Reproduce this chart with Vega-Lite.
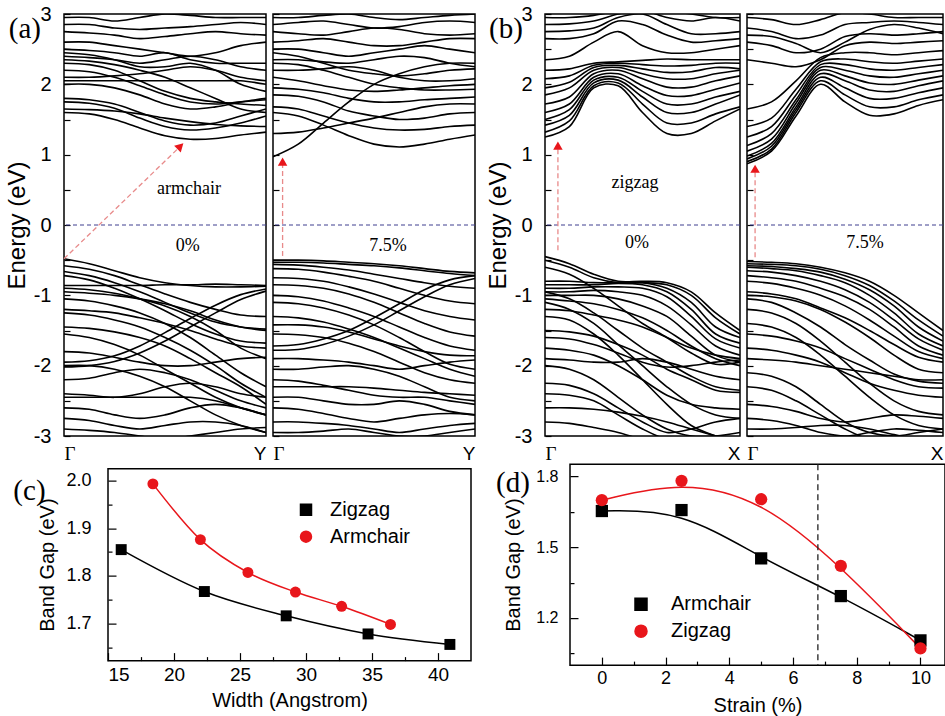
{
"$schema": "https://vega.github.io/schema/vega-lite/v6.json",
"background": "white",
"padding": {"left": 4, "top": 3, "right": 0, "bottom": 0},
"bounds": "full",
"spacing": -4,
"config": {
  "view": {"stroke": "black", "strokeWidth": 1.5},
  "axis": {"domain": false, "grid": false, "labelColor": "black", "tickColor": "black", "titleColor": "black", "labelFont": "Liberation Sans", "titleFont": "Liberation Sans", "titleFontWeight": "normal", "tickWidth": 1.2, "labelOverlap": false, "tickCount": 100},
  "legend": {"labelFont": "Liberation Sans", "labelColor": "black"},
  "text": {"font": "Liberation Serif", "color": "black"}
},
"datasets": {
"a0": [
{"b":1,"k":0,"e":-0.48},{"b":1,"k":1,"e":-0.55},{"b":1,"k":2,"e":-0.65},{"b":1,"k":3,"e":-0.75},{"b":1,"k":4,"e":-0.82},{"b":1,"k":5,"e":-0.86},{"b":1,"k":6,"e":-0.88},{"b":1,"k":7,"e":-0.88},{"b":1,"k":8,"e":-0.87},
{"b":2,"k":0,"e":-0.86},{"b":2,"k":1,"e":-0.86},{"b":2,"k":2,"e":-0.86},{"b":2,"k":3,"e":-0.86},{"b":2,"k":4,"e":-0.85},{"b":2,"k":5,"e":-0.85},{"b":2,"k":6,"e":-0.84},{"b":2,"k":7,"e":-0.85},{"b":2,"k":8,"e":-0.86},
{"b":3,"k":0,"e":-0.58},{"b":3,"k":1,"e":-0.63},{"b":3,"k":2,"e":-0.72},{"b":3,"k":3,"e":-0.85},{"b":3,"k":4,"e":-0.98},{"b":3,"k":5,"e":-1.1},{"b":3,"k":6,"e":-1.2},{"b":3,"k":7,"e":-1.28},{"b":3,"k":8,"e":-1.3},
{"b":4,"k":0,"e":-0.66},{"b":4,"k":1,"e":-0.72},{"b":4,"k":2,"e":-0.82},{"b":4,"k":3,"e":-0.95},{"b":4,"k":4,"e":-1.1},{"b":4,"k":5,"e":-1.25},{"b":4,"k":6,"e":-1.38},{"b":4,"k":7,"e":-1.45},{"b":4,"k":8,"e":-1.48},
{"b":5,"k":0,"e":-0.72},{"b":5,"k":1,"e":-0.78},{"b":5,"k":2,"e":-0.9},{"b":5,"k":3,"e":-1.05},{"b":5,"k":4,"e":-1.22},{"b":5,"k":5,"e":-1.4},{"b":5,"k":6,"e":-1.55},{"b":5,"k":7,"e":-1.65},{"b":5,"k":8,"e":-1.68},
{"b":6,"k":0,"e":-0.9},{"b":6,"k":1,"e":-0.92},{"b":6,"k":2,"e":-0.97},{"b":6,"k":3,"e":-1.05},{"b":6,"k":4,"e":-1.15},{"b":6,"k":5,"e":-1.3},{"b":6,"k":6,"e":-1.5},{"b":6,"k":7,"e":-1.75},{"b":6,"k":8,"e":-1.9},
{"b":7,"k":0,"e":-0.95},{"b":7,"k":1,"e":-0.97},{"b":7,"k":2,"e":-1},{"b":7,"k":3,"e":-1.05},{"b":7,"k":4,"e":-1.12},{"b":7,"k":5,"e":-1.22},{"b":7,"k":6,"e":-1.35},{"b":7,"k":7,"e":-1.45},{"b":7,"k":8,"e":-1.5},
{"b":8,"k":0,"e":-1.05},{"b":8,"k":1,"e":-1.08},{"b":8,"k":2,"e":-1.15},{"b":8,"k":3,"e":-1.25},{"b":8,"k":4,"e":-1.4},{"b":8,"k":5,"e":-1.6},{"b":8,"k":6,"e":-1.85},{"b":8,"k":7,"e":-2.1},{"b":8,"k":8,"e":-2.3},
{"b":9,"k":0,"e":-1.95},{"b":9,"k":1,"e":-1.93},{"b":9,"k":2,"e":-1.86},{"b":9,"k":3,"e":-1.72},{"b":9,"k":4,"e":-1.53},{"b":9,"k":5,"e":-1.33},{"b":9,"k":6,"e":-1.14},{"b":9,"k":7,"e":-0.99},{"b":9,"k":8,"e":-0.91},
{"b":10,"k":0,"e":-2.02},{"b":10,"k":1,"e":-2},{"b":10,"k":2,"e":-1.94},{"b":10,"k":3,"e":-1.82},{"b":10,"k":4,"e":-1.65},{"b":10,"k":5,"e":-1.45},{"b":10,"k":6,"e":-1.25},{"b":10,"k":7,"e":-1.06},{"b":10,"k":8,"e":-0.94},
{"b":11,"k":0,"e":-1.25},{"b":11,"k":1,"e":-1.28},{"b":11,"k":2,"e":-1.35},{"b":11,"k":3,"e":-1.45},{"b":11,"k":4,"e":-1.6},{"b":11,"k":5,"e":-1.78},{"b":11,"k":6,"e":-2},{"b":11,"k":7,"e":-2.25},{"b":11,"k":8,"e":-2.45},
{"b":12,"k":0,"e":-1.45},{"b":12,"k":1,"e":-1.47},{"b":12,"k":2,"e":-1.52},{"b":12,"k":3,"e":-1.6},{"b":12,"k":4,"e":-1.72},{"b":12,"k":5,"e":-1.9},{"b":12,"k":6,"e":-2.1},{"b":12,"k":7,"e":-2.3},{"b":12,"k":8,"e":-2.55},
{"b":13,"k":0,"e":-1.55},{"b":13,"k":1,"e":-1.6},{"b":13,"k":2,"e":-1.7},{"b":13,"k":3,"e":-1.85},{"b":13,"k":4,"e":-2.05},{"b":13,"k":5,"e":-2.25},{"b":13,"k":6,"e":-2.45},{"b":13,"k":7,"e":-2.6},{"b":13,"k":8,"e":-2.7},
{"b":14,"k":0,"e":-1.8},{"b":14,"k":1,"e":-1.82},{"b":14,"k":2,"e":-1.88},{"b":14,"k":3,"e":-1.95},{"b":14,"k":4,"e":-2},{"b":14,"k":5,"e":-2},{"b":14,"k":6,"e":-1.95},{"b":14,"k":7,"e":-1.9},{"b":14,"k":8,"e":-1.88},
{"b":15,"k":0,"e":-2.2},{"b":15,"k":1,"e":-2.18},{"b":15,"k":2,"e":-2.1},{"b":15,"k":3,"e":-2.05},{"b":15,"k":4,"e":-2.1},{"b":15,"k":5,"e":-2.2},{"b":15,"k":6,"e":-2.35},{"b":15,"k":7,"e":-2.5},{"b":15,"k":8,"e":-2.6},
{"b":16,"k":0,"e":-2.4},{"b":16,"k":1,"e":-2.42},{"b":16,"k":2,"e":-2.45},{"b":16,"k":3,"e":-2.4},{"b":16,"k":4,"e":-2.3},{"b":16,"k":5,"e":-2.25},{"b":16,"k":6,"e":-2.3},{"b":16,"k":7,"e":-2.4},{"b":16,"k":8,"e":-2.45},
{"b":17,"k":0,"e":-2.45},{"b":17,"k":1,"e":-2.45},{"b":17,"k":2,"e":-2.45},{"b":17,"k":3,"e":-2.45},{"b":17,"k":4,"e":-2.45},{"b":17,"k":5,"e":-2.45},{"b":17,"k":6,"e":-2.5},{"b":17,"k":7,"e":-2.6},{"b":17,"k":8,"e":-2.7},
{"b":18,"k":0,"e":-2.6},{"b":18,"k":1,"e":-2.62},{"b":18,"k":2,"e":-2.7},{"b":18,"k":3,"e":-2.75},{"b":18,"k":4,"e":-2.7},{"b":18,"k":5,"e":-2.6},{"b":18,"k":6,"e":-2.55},{"b":18,"k":7,"e":-2.6},{"b":18,"k":8,"e":-2.7},
{"b":19,"k":0,"e":-2.75},{"b":19,"k":1,"e":-2.78},{"b":19,"k":2,"e":-2.85},{"b":19,"k":3,"e":-2.9},{"b":19,"k":4,"e":-2.85},{"b":19,"k":5,"e":-2.8},{"b":19,"k":6,"e":-2.8},{"b":19,"k":7,"e":-2.85},{"b":19,"k":8,"e":-2.95},
{"b":20,"k":0,"e":-2.9},{"b":20,"k":1,"e":-2.92},{"b":20,"k":2,"e":-2.95},{"b":20,"k":3,"e":-3},{"b":20,"k":4,"e":-3.05},{"b":20,"k":5,"e":-3},{"b":20,"k":6,"e":-2.95},{"b":20,"k":7,"e":-2.9},{"b":20,"k":8,"e":-2.88},
{"b":21,"k":0,"e":-1.2},{"b":21,"k":1,"e":-1.22},{"b":21,"k":2,"e":-1.25},{"b":21,"k":3,"e":-1.32},{"b":21,"k":4,"e":-1.4},{"b":21,"k":5,"e":-1.5},{"b":21,"k":6,"e":-1.62},{"b":21,"k":7,"e":-1.72},{"b":21,"k":8,"e":-1.75},
{"b":22,"k":0,"e":-2},{"b":22,"k":1,"e":-2},{"b":22,"k":2,"e":-2.05},{"b":22,"k":3,"e":-2.15},{"b":22,"k":4,"e":-2.3},{"b":22,"k":5,"e":-2.5},{"b":22,"k":6,"e":-2.7},{"b":22,"k":7,"e":-2.85},{"b":22,"k":8,"e":-2.95},
{"b":23,"k":0,"e":1.6},{"b":23,"k":1,"e":1.58},{"b":23,"k":2,"e":1.5},{"b":23,"k":3,"e":1.38},{"b":23,"k":4,"e":1.27},{"b":23,"k":5,"e":1.22},{"b":23,"k":6,"e":1.23},{"b":23,"k":7,"e":1.28},{"b":23,"k":8,"e":1.32},
{"b":24,"k":0,"e":1.75},{"b":24,"k":1,"e":1.73},{"b":24,"k":2,"e":1.66},{"b":24,"k":3,"e":1.52},{"b":24,"k":4,"e":1.4},{"b":24,"k":5,"e":1.35},{"b":24,"k":6,"e":1.38},{"b":24,"k":7,"e":1.45},{"b":24,"k":8,"e":1.55},
{"b":25,"k":0,"e":1.65},{"b":25,"k":1,"e":1.64},{"b":25,"k":2,"e":1.62},{"b":25,"k":3,"e":1.58},{"b":25,"k":4,"e":1.52},{"b":25,"k":5,"e":1.47},{"b":25,"k":6,"e":1.43},{"b":25,"k":7,"e":1.41},{"b":25,"k":8,"e":1.4},
{"b":26,"k":0,"e":2},{"b":26,"k":1,"e":2},{"b":26,"k":2,"e":1.95},{"b":26,"k":3,"e":1.85},{"b":26,"k":4,"e":1.72},{"b":26,"k":5,"e":1.65},{"b":26,"k":6,"e":1.68},{"b":26,"k":7,"e":1.75},{"b":26,"k":8,"e":1.8},
{"b":27,"k":0,"e":2.05},{"b":27,"k":1,"e":2.05},{"b":27,"k":2,"e":2.05},{"b":27,"k":3,"e":2.05},{"b":27,"k":4,"e":2.05},{"b":27,"k":5,"e":2.05},{"b":27,"k":6,"e":2.05},{"b":27,"k":7,"e":2.05},{"b":27,"k":8,"e":2},
{"b":28,"k":0,"e":2.1},{"b":28,"k":1,"e":2.1},{"b":28,"k":2,"e":2.12},{"b":28,"k":3,"e":2.15},{"b":28,"k":4,"e":2.2},{"b":28,"k":5,"e":2.25},{"b":28,"k":6,"e":2.2},{"b":28,"k":7,"e":2.1},{"b":28,"k":8,"e":2.05},
{"b":29,"k":0,"e":2.3},{"b":29,"k":1,"e":2.28},{"b":29,"k":2,"e":2.2},{"b":29,"k":3,"e":2.05},{"b":29,"k":4,"e":1.9},{"b":29,"k":5,"e":1.8},{"b":29,"k":6,"e":1.75},{"b":29,"k":7,"e":1.72},{"b":29,"k":8,"e":1.7},
{"b":30,"k":0,"e":2.35},{"b":30,"k":1,"e":2.33},{"b":30,"k":2,"e":2.28},{"b":30,"k":3,"e":2.2},{"b":30,"k":4,"e":2.1},{"b":30,"k":5,"e":1.95},{"b":30,"k":6,"e":1.8},{"b":30,"k":7,"e":1.65},{"b":30,"k":8,"e":1.6},
{"b":31,"k":0,"e":2.4},{"b":31,"k":1,"e":2.38},{"b":31,"k":2,"e":2.35},{"b":31,"k":3,"e":2.3},{"b":31,"k":4,"e":2.35},{"b":31,"k":5,"e":2.4},{"b":31,"k":6,"e":2.35},{"b":31,"k":7,"e":2.25},{"b":31,"k":8,"e":2.2},
{"b":32,"k":0,"e":2.5},{"b":32,"k":1,"e":2.48},{"b":32,"k":2,"e":2.45},{"b":32,"k":3,"e":2.4},{"b":32,"k":4,"e":2.45},{"b":32,"k":5,"e":2.35},{"b":32,"k":6,"e":2.3},{"b":32,"k":7,"e":2.3},{"b":32,"k":8,"e":2.3},
{"b":33,"k":0,"e":2.6},{"b":33,"k":1,"e":2.6},{"b":33,"k":2,"e":2.55},{"b":33,"k":3,"e":2.5},{"b":33,"k":4,"e":2.45},{"b":33,"k":5,"e":2.4},{"b":33,"k":6,"e":2.45},{"b":33,"k":7,"e":2.55},{"b":33,"k":8,"e":2.6},
{"b":34,"k":0,"e":2.75},{"b":34,"k":1,"e":2.73},{"b":34,"k":2,"e":2.7},{"b":34,"k":3,"e":2.65},{"b":34,"k":4,"e":2.68},{"b":34,"k":5,"e":2.72},{"b":34,"k":6,"e":2.75},{"b":34,"k":7,"e":2.72},{"b":34,"k":8,"e":2.7},
{"b":35,"k":0,"e":2.85},{"b":35,"k":1,"e":2.85},{"b":35,"k":2,"e":2.8},{"b":35,"k":3,"e":2.78},{"b":35,"k":4,"e":2.8},{"b":35,"k":5,"e":2.82},{"b":35,"k":6,"e":2.85},{"b":35,"k":7,"e":2.88},{"b":35,"k":8,"e":2.85},
{"b":36,"k":0,"e":2.95},{"b":36,"k":1,"e":2.95},{"b":36,"k":2,"e":2.9},{"b":36,"k":3,"e":2.95},{"b":36,"k":4,"e":3},{"b":36,"k":5,"e":2.98},{"b":36,"k":6,"e":2.95},{"b":36,"k":7,"e":2.95},{"b":36,"k":8,"e":2.95},
{"b":37,"k":0,"e":1.8},{"b":37,"k":1,"e":1.78},{"b":37,"k":2,"e":1.72},{"b":37,"k":3,"e":1.6},{"b":37,"k":4,"e":1.48},{"b":37,"k":5,"e":1.42},{"b":37,"k":6,"e":1.45},{"b":37,"k":7,"e":1.55},{"b":37,"k":8,"e":1.65},
{"b":38,"k":0,"e":2.2},{"b":38,"k":1,"e":2.18},{"b":38,"k":2,"e":2.1},{"b":38,"k":3,"e":1.98},{"b":38,"k":4,"e":1.85},{"b":38,"k":5,"e":1.75},{"b":38,"k":6,"e":1.72},{"b":38,"k":7,"e":1.75},{"b":38,"k":8,"e":1.78},
{"b":39,"k":0,"e":2.45},{"b":39,"k":1,"e":2.42},{"b":39,"k":2,"e":2.35},{"b":39,"k":3,"e":2.25},{"b":39,"k":4,"e":2.25},{"b":39,"k":5,"e":2.3},{"b":39,"k":6,"e":2.2},{"b":39,"k":7,"e":2},{"b":39,"k":8,"e":1.9}
],
"a1": [
{"b":1,"k":0,"e":-0.5},{"b":1,"k":1,"e":-0.5},{"b":1,"k":2,"e":-0.51},{"b":1,"k":3,"e":-0.53},{"b":1,"k":4,"e":-0.55},{"b":1,"k":5,"e":-0.58},{"b":1,"k":6,"e":-0.62},{"b":1,"k":7,"e":-0.66},{"b":1,"k":8,"e":-0.68},
{"b":2,"k":0,"e":-0.53},{"b":2,"k":1,"e":-0.53},{"b":2,"k":2,"e":-0.54},{"b":2,"k":3,"e":-0.56},{"b":2,"k":4,"e":-0.58},{"b":2,"k":5,"e":-0.61},{"b":2,"k":6,"e":-0.65},{"b":2,"k":7,"e":-0.69},{"b":2,"k":8,"e":-0.72},
{"b":3,"k":0,"e":-0.56},{"b":3,"k":1,"e":-0.57},{"b":3,"k":2,"e":-0.6},{"b":3,"k":3,"e":-0.64},{"b":3,"k":4,"e":-0.7},{"b":3,"k":5,"e":-0.76},{"b":3,"k":6,"e":-0.82},{"b":3,"k":7,"e":-0.87},{"b":3,"k":8,"e":-0.9},
{"b":4,"k":0,"e":-0.62},{"b":4,"k":1,"e":-0.63},{"b":4,"k":2,"e":-0.67},{"b":4,"k":3,"e":-0.73},{"b":4,"k":4,"e":-0.8},{"b":4,"k":5,"e":-0.9},{"b":4,"k":6,"e":-1},{"b":4,"k":7,"e":-1.08},{"b":4,"k":8,"e":-1.12},
{"b":5,"k":0,"e":-0.75},{"b":5,"k":1,"e":-0.76},{"b":5,"k":2,"e":-0.8},{"b":5,"k":3,"e":-0.88},{"b":5,"k":4,"e":-0.98},{"b":5,"k":5,"e":-1.1},{"b":5,"k":6,"e":-1.22},{"b":5,"k":7,"e":-1.3},{"b":5,"k":8,"e":-1.35},
{"b":6,"k":0,"e":-0.85},{"b":6,"k":1,"e":-0.86},{"b":6,"k":2,"e":-0.9},{"b":6,"k":3,"e":-0.98},{"b":6,"k":4,"e":-1.1},{"b":6,"k":5,"e":-1.25},{"b":6,"k":6,"e":-1.4},{"b":6,"k":7,"e":-1.52},{"b":6,"k":8,"e":-1.58},
{"b":7,"k":0,"e":-1},{"b":7,"k":1,"e":-1.02},{"b":7,"k":2,"e":-1.08},{"b":7,"k":3,"e":-1.18},{"b":7,"k":4,"e":-1.3},{"b":7,"k":5,"e":-1.45},{"b":7,"k":6,"e":-1.6},{"b":7,"k":7,"e":-1.72},{"b":7,"k":8,"e":-1.78},
{"b":8,"k":0,"e":-1.1},{"b":8,"k":1,"e":-1.12},{"b":8,"k":2,"e":-1.18},{"b":8,"k":3,"e":-1.28},{"b":8,"k":4,"e":-1.42},{"b":8,"k":5,"e":-1.6},{"b":8,"k":6,"e":-1.8},{"b":8,"k":7,"e":-1.98},{"b":8,"k":8,"e":-2.05},
{"b":9,"k":0,"e":-1.72},{"b":9,"k":1,"e":-1.7},{"b":9,"k":2,"e":-1.62},{"b":9,"k":3,"e":-1.5},{"b":9,"k":4,"e":-1.32},{"b":9,"k":5,"e":-1.12},{"b":9,"k":6,"e":-0.92},{"b":9,"k":7,"e":-0.78},{"b":9,"k":8,"e":-0.72},
{"b":10,"k":0,"e":-1.78},{"b":10,"k":1,"e":-1.77},{"b":10,"k":2,"e":-1.7},{"b":10,"k":3,"e":-1.58},{"b":10,"k":4,"e":-1.42},{"b":10,"k":5,"e":-1.22},{"b":10,"k":6,"e":-1.02},{"b":10,"k":7,"e":-0.85},{"b":10,"k":8,"e":-0.76},
{"b":11,"k":0,"e":-1.3},{"b":11,"k":1,"e":-1.32},{"b":11,"k":2,"e":-1.38},{"b":11,"k":3,"e":-1.48},{"b":11,"k":4,"e":-1.6},{"b":11,"k":5,"e":-1.75},{"b":11,"k":6,"e":-1.9},{"b":11,"k":7,"e":-2.05},{"b":11,"k":8,"e":-2.15},
{"b":12,"k":0,"e":-1.55},{"b":12,"k":1,"e":-1.56},{"b":12,"k":2,"e":-1.6},{"b":12,"k":3,"e":-1.68},{"b":12,"k":4,"e":-1.8},{"b":12,"k":5,"e":-1.95},{"b":12,"k":6,"e":-2.1},{"b":12,"k":7,"e":-2.2},{"b":12,"k":8,"e":-2.25},
{"b":13,"k":0,"e":-1.9},{"b":13,"k":1,"e":-1.9},{"b":13,"k":2,"e":-1.92},{"b":13,"k":3,"e":-1.95},{"b":13,"k":4,"e":-2},{"b":13,"k":5,"e":-2.05},{"b":13,"k":6,"e":-2},{"b":13,"k":7,"e":-1.95},{"b":13,"k":8,"e":-1.92},
{"b":14,"k":0,"e":-2.05},{"b":14,"k":1,"e":-2.05},{"b":14,"k":2,"e":-2.02},{"b":14,"k":3,"e":-2},{"b":14,"k":4,"e":-2.05},{"b":14,"k":5,"e":-2.15},{"b":14,"k":6,"e":-2.3},{"b":14,"k":7,"e":-2.45},{"b":14,"k":8,"e":-2.5},
{"b":15,"k":0,"e":-2.2},{"b":15,"k":1,"e":-2.22},{"b":15,"k":2,"e":-2.28},{"b":15,"k":3,"e":-2.35},{"b":15,"k":4,"e":-2.42},{"b":15,"k":5,"e":-2.45},{"b":15,"k":6,"e":-2.45},{"b":15,"k":7,"e":-2.5},{"b":15,"k":8,"e":-2.55},
{"b":16,"k":0,"e":-2.45},{"b":16,"k":1,"e":-2.45},{"b":16,"k":2,"e":-2.5},{"b":16,"k":3,"e":-2.55},{"b":16,"k":4,"e":-2.55},{"b":16,"k":5,"e":-2.5},{"b":16,"k":6,"e":-2.55},{"b":16,"k":7,"e":-2.65},{"b":16,"k":8,"e":-2.7},
{"b":17,"k":0,"e":-2.6},{"b":17,"k":1,"e":-2.62},{"b":17,"k":2,"e":-2.68},{"b":17,"k":3,"e":-2.75},{"b":17,"k":4,"e":-2.8},{"b":17,"k":5,"e":-2.75},{"b":17,"k":6,"e":-2.7},{"b":17,"k":7,"e":-2.68},{"b":17,"k":8,"e":-2.7},
{"b":18,"k":0,"e":-2.8},{"b":18,"k":1,"e":-2.8},{"b":18,"k":2,"e":-2.82},{"b":18,"k":3,"e":-2.85},{"b":18,"k":4,"e":-2.9},{"b":18,"k":5,"e":-2.95},{"b":18,"k":6,"e":-2.9},{"b":18,"k":7,"e":-2.85},{"b":18,"k":8,"e":-2.82},
{"b":19,"k":0,"e":-2.95},{"b":19,"k":1,"e":-2.95},{"b":19,"k":2,"e":-2.93},{"b":19,"k":3,"e":-2.9},{"b":19,"k":4,"e":-2.95},{"b":19,"k":5,"e":-3},{"b":19,"k":6,"e":-3},{"b":19,"k":7,"e":-2.95},{"b":19,"k":8,"e":-2.9},
{"b":20,"k":0,"e":-1.42},{"b":20,"k":1,"e":-1.42},{"b":20,"k":2,"e":-1.45},{"b":20,"k":3,"e":-1.52},{"b":20,"k":4,"e":-1.62},{"b":20,"k":5,"e":-1.72},{"b":20,"k":6,"e":-1.8},{"b":20,"k":7,"e":-1.85},{"b":20,"k":8,"e":-1.86},
{"b":21,"k":0,"e":-2.3},{"b":21,"k":1,"e":-2.3},{"b":21,"k":2,"e":-2.3},{"b":21,"k":3,"e":-2.3},{"b":21,"k":4,"e":-2.32},{"b":21,"k":5,"e":-2.35},{"b":21,"k":6,"e":-2.38},{"b":21,"k":7,"e":-2.4},{"b":21,"k":8,"e":-2.42},
{"b":22,"k":0,"e":0.97},{"b":22,"k":1,"e":1.15},{"b":22,"k":2,"e":1.45},{"b":22,"k":3,"e":1.75},{"b":22,"k":4,"e":2},{"b":22,"k":5,"e":2.15},{"b":22,"k":6,"e":2.25},{"b":22,"k":7,"e":2.3},{"b":22,"k":8,"e":2.3},
{"b":23,"k":0,"e":1.3},{"b":23,"k":1,"e":1.32},{"b":23,"k":2,"e":1.38},{"b":23,"k":3,"e":1.45},{"b":23,"k":4,"e":1.52},{"b":23,"k":5,"e":1.6},{"b":23,"k":6,"e":1.68},{"b":23,"k":7,"e":1.72},{"b":23,"k":8,"e":1.72},
{"b":24,"k":0,"e":1.6},{"b":24,"k":1,"e":1.55},{"b":24,"k":2,"e":1.42},{"b":24,"k":3,"e":1.27},{"b":24,"k":4,"e":1.15},{"b":24,"k":5,"e":1.11},{"b":24,"k":6,"e":1.15},{"b":24,"k":7,"e":1.22},{"b":24,"k":8,"e":1.28},
{"b":25,"k":0,"e":1.68},{"b":25,"k":1,"e":1.65},{"b":25,"k":2,"e":1.55},{"b":25,"k":3,"e":1.45},{"b":25,"k":4,"e":1.38},{"b":25,"k":5,"e":1.35},{"b":25,"k":6,"e":1.36},{"b":25,"k":7,"e":1.4},{"b":25,"k":8,"e":1.42},
{"b":26,"k":0,"e":1.85},{"b":26,"k":1,"e":1.83},{"b":26,"k":2,"e":1.75},{"b":26,"k":3,"e":1.62},{"b":26,"k":4,"e":1.55},{"b":26,"k":5,"e":1.5},{"b":26,"k":6,"e":1.52},{"b":26,"k":7,"e":1.58},{"b":26,"k":8,"e":1.6},
{"b":27,"k":0,"e":1.95},{"b":27,"k":1,"e":1.93},{"b":27,"k":2,"e":1.88},{"b":27,"k":3,"e":1.8},{"b":27,"k":4,"e":1.75},{"b":27,"k":5,"e":1.75},{"b":27,"k":6,"e":1.78},{"b":27,"k":7,"e":1.8},{"b":27,"k":8,"e":1.82},
{"b":28,"k":0,"e":2.1},{"b":28,"k":1,"e":2.05},{"b":28,"k":2,"e":1.98},{"b":28,"k":3,"e":1.92},{"b":28,"k":4,"e":1.9},{"b":28,"k":5,"e":1.92},{"b":28,"k":6,"e":1.95},{"b":28,"k":7,"e":1.98},{"b":28,"k":8,"e":2},
{"b":29,"k":0,"e":2.2},{"b":29,"k":1,"e":2.2},{"b":29,"k":2,"e":2.22},{"b":29,"k":3,"e":2.25},{"b":29,"k":4,"e":2.2},{"b":29,"k":5,"e":2.1},{"b":29,"k":6,"e":2.05},{"b":29,"k":7,"e":2.05},{"b":29,"k":8,"e":2.08},
{"b":30,"k":0,"e":2.35},{"b":30,"k":1,"e":2.35},{"b":30,"k":2,"e":2.32},{"b":30,"k":3,"e":2.3},{"b":30,"k":4,"e":2.35},{"b":30,"k":5,"e":2.4},{"b":30,"k":6,"e":2.38},{"b":30,"k":7,"e":2.3},{"b":30,"k":8,"e":2.25},
{"b":31,"k":0,"e":2.5},{"b":31,"k":1,"e":2.5},{"b":31,"k":2,"e":2.45},{"b":31,"k":3,"e":2.4},{"b":31,"k":4,"e":2.45},{"b":31,"k":5,"e":2.5},{"b":31,"k":6,"e":2.55},{"b":31,"k":7,"e":2.5},{"b":31,"k":8,"e":2.45},
{"b":32,"k":0,"e":2.6},{"b":32,"k":1,"e":2.62},{"b":32,"k":2,"e":2.65},{"b":32,"k":3,"e":2.6},{"b":32,"k":4,"e":2.55},{"b":32,"k":5,"e":2.55},{"b":32,"k":6,"e":2.6},{"b":32,"k":7,"e":2.65},{"b":32,"k":8,"e":2.65},
{"b":33,"k":0,"e":2.75},{"b":33,"k":1,"e":2.72},{"b":33,"k":2,"e":2.7},{"b":33,"k":3,"e":2.75},{"b":33,"k":4,"e":2.8},{"b":33,"k":5,"e":2.78},{"b":33,"k":6,"e":2.72},{"b":33,"k":7,"e":2.7},{"b":33,"k":8,"e":2.72},
{"b":34,"k":0,"e":2.85},{"b":34,"k":1,"e":2.88},{"b":34,"k":2,"e":2.9},{"b":34,"k":3,"e":2.85},{"b":34,"k":4,"e":2.8},{"b":34,"k":5,"e":2.82},{"b":34,"k":6,"e":2.88},{"b":34,"k":7,"e":2.9},{"b":34,"k":8,"e":2.88},
{"b":35,"k":0,"e":2.95},{"b":35,"k":1,"e":2.95},{"b":35,"k":2,"e":2.98},{"b":35,"k":3,"e":3},{"b":35,"k":4,"e":2.95},{"b":35,"k":5,"e":2.92},{"b":35,"k":6,"e":2.95},{"b":35,"k":7,"e":2.98},{"b":35,"k":8,"e":3},
{"b":36,"k":0,"e":2.3},{"b":36,"k":1,"e":2.28},{"b":36,"k":2,"e":2.2},{"b":36,"k":3,"e":2.1},{"b":36,"k":4,"e":2},{"b":36,"k":5,"e":1.95},{"b":36,"k":6,"e":1.92},{"b":36,"k":7,"e":1.92},{"b":36,"k":8,"e":1.93},
{"b":37,"k":0,"e":2.45},{"b":37,"k":1,"e":2.4},{"b":37,"k":2,"e":2.3},{"b":37,"k":3,"e":2.2},{"b":37,"k":4,"e":2.15},{"b":37,"k":5,"e":2.12},{"b":37,"k":6,"e":2.15},{"b":37,"k":7,"e":2.2},{"b":37,"k":8,"e":2.22}
],
"b0": [
{"b":1,"k":0,"e":-0.45},{"b":1,"k":1,"e":-0.55},{"b":1,"k":2,"e":-0.7},{"b":1,"k":3,"e":-0.8},{"b":1,"k":4,"e":-0.8},{"b":1,"k":5,"e":-0.82},{"b":1,"k":6,"e":-0.95},{"b":1,"k":7,"e":-1.25},{"b":1,"k":8,"e":-1.5},
{"b":2,"k":0,"e":-0.5},{"b":2,"k":1,"e":-0.6},{"b":2,"k":2,"e":-0.75},{"b":2,"k":3,"e":-0.82},{"b":2,"k":4,"e":-0.82},{"b":2,"k":5,"e":-0.85},{"b":2,"k":6,"e":-1},{"b":2,"k":7,"e":-1.32},{"b":2,"k":8,"e":-1.55},
{"b":3,"k":0,"e":-0.8},{"b":3,"k":1,"e":-0.8},{"b":3,"k":2,"e":-0.82},{"b":3,"k":3,"e":-0.82},{"b":3,"k":4,"e":-0.82},{"b":3,"k":5,"e":-0.9},{"b":3,"k":6,"e":-1.1},{"b":3,"k":7,"e":-1.45},{"b":3,"k":8,"e":-1.6},
{"b":4,"k":0,"e":-0.85},{"b":4,"k":1,"e":-0.85},{"b":4,"k":2,"e":-0.85},{"b":4,"k":3,"e":-0.83},{"b":4,"k":4,"e":-0.85},{"b":4,"k":5,"e":-0.95},{"b":4,"k":6,"e":-1.2},{"b":4,"k":7,"e":-1.55},{"b":4,"k":8,"e":-1.68},
{"b":5,"k":0,"e":-0.9},{"b":5,"k":1,"e":-0.9},{"b":5,"k":2,"e":-0.88},{"b":5,"k":3,"e":-0.88},{"b":5,"k":4,"e":-0.9},{"b":5,"k":5,"e":-1.02},{"b":5,"k":6,"e":-1.3},{"b":5,"k":7,"e":-1.62},{"b":5,"k":8,"e":-1.75},
{"b":6,"k":0,"e":-0.95},{"b":6,"k":1,"e":-0.95},{"b":6,"k":2,"e":-0.93},{"b":6,"k":3,"e":-0.95},{"b":6,"k":4,"e":-1},{"b":6,"k":5,"e":-1.15},{"b":6,"k":6,"e":-1.42},{"b":6,"k":7,"e":-1.72},{"b":6,"k":8,"e":-1.85},
{"b":7,"k":0,"e":-1},{"b":7,"k":1,"e":-1},{"b":7,"k":2,"e":-1},{"b":7,"k":3,"e":-1.05},{"b":7,"k":4,"e":-1.15},{"b":7,"k":5,"e":-1.3},{"b":7,"k":6,"e":-1.58},{"b":7,"k":7,"e":-1.85},{"b":7,"k":8,"e":-1.95},
{"b":8,"k":0,"e":-0.6},{"b":8,"k":1,"e":-0.7},{"b":8,"k":2,"e":-0.9},{"b":8,"k":3,"e":-1.15},{"b":8,"k":4,"e":-1.4},{"b":8,"k":5,"e":-1.6},{"b":8,"k":6,"e":-1.82},{"b":8,"k":7,"e":-1.98},{"b":8,"k":8,"e":-1.95},
{"b":9,"k":0,"e":-0.95},{"b":9,"k":1,"e":-1.05},{"b":9,"k":2,"e":-1.25},{"b":9,"k":3,"e":-1.5},{"b":9,"k":4,"e":-1.75},{"b":9,"k":5,"e":-1.95},{"b":9,"k":6,"e":-2.15},{"b":9,"k":7,"e":-2.3},{"b":9,"k":8,"e":-2.35},
{"b":10,"k":0,"e":-1.1},{"b":10,"k":1,"e":-1.2},{"b":10,"k":2,"e":-1.4},{"b":10,"k":3,"e":-1.7},{"b":10,"k":4,"e":-2},{"b":10,"k":5,"e":-2.3},{"b":10,"k":6,"e":-2.55},{"b":10,"k":7,"e":-2.7},{"b":10,"k":8,"e":-2.75},
{"b":11,"k":0,"e":-1.3},{"b":11,"k":1,"e":-1.35},{"b":11,"k":2,"e":-1.55},{"b":11,"k":3,"e":-1.85},{"b":11,"k":4,"e":-2.2},{"b":11,"k":5,"e":-2.55},{"b":11,"k":6,"e":-2.85},{"b":11,"k":7,"e":-3},{"b":11,"k":8,"e":-3.1},
{"b":12,"k":0,"e":-1.5},{"b":12,"k":1,"e":-1.52},{"b":12,"k":2,"e":-1.58},{"b":12,"k":3,"e":-1.7},{"b":12,"k":4,"e":-1.85},{"b":12,"k":5,"e":-2.05},{"b":12,"k":6,"e":-2.2},{"b":12,"k":7,"e":-2.35},{"b":12,"k":8,"e":-2.38},
{"b":13,"k":0,"e":-1.75},{"b":13,"k":1,"e":-1.78},{"b":13,"k":2,"e":-1.85},{"b":13,"k":3,"e":-2},{"b":13,"k":4,"e":-2.2},{"b":13,"k":5,"e":-2.42},{"b":13,"k":6,"e":-2.55},{"b":13,"k":7,"e":-2.6},{"b":13,"k":8,"e":-2.62},
{"b":14,"k":0,"e":-1.9},{"b":14,"k":1,"e":-1.92},{"b":14,"k":2,"e":-1.95},{"b":14,"k":3,"e":-1.95},{"b":14,"k":4,"e":-1.9},{"b":14,"k":5,"e":-1.95},{"b":14,"k":6,"e":-2.05},{"b":14,"k":7,"e":-2.15},{"b":14,"k":8,"e":-2.2},
{"b":15,"k":0,"e":-2},{"b":15,"k":1,"e":-2.05},{"b":15,"k":2,"e":-2.2},{"b":15,"k":3,"e":-2.45},{"b":15,"k":4,"e":-2.7},{"b":15,"k":5,"e":-2.9},{"b":15,"k":6,"e":-3},{"b":15,"k":7,"e":-3},{"b":15,"k":8,"e":-2.95},
{"b":16,"k":0,"e":-2.25},{"b":16,"k":1,"e":-2.28},{"b":16,"k":2,"e":-2.4},{"b":16,"k":3,"e":-2.6},{"b":16,"k":4,"e":-2.8},{"b":16,"k":5,"e":-2.95},{"b":16,"k":6,"e":-2.9},{"b":16,"k":7,"e":-2.8},{"b":16,"k":8,"e":-2.75},
{"b":17,"k":0,"e":-2.4},{"b":17,"k":1,"e":-2.42},{"b":17,"k":2,"e":-2.5},{"b":17,"k":3,"e":-2.7},{"b":17,"k":4,"e":-2.9},{"b":17,"k":5,"e":-3.05},{"b":17,"k":6,"e":-3.1},{"b":17,"k":7,"e":-3.1},{"b":17,"k":8,"e":-3.1},
{"b":18,"k":0,"e":-2.6},{"b":18,"k":1,"e":-2.6},{"b":18,"k":2,"e":-2.62},{"b":18,"k":3,"e":-2.66},{"b":18,"k":4,"e":-2.72},{"b":18,"k":5,"e":-2.8},{"b":18,"k":6,"e":-2.9},{"b":18,"k":7,"e":-3},{"b":18,"k":8,"e":-3.1},
{"b":19,"k":0,"e":-1.2},{"b":19,"k":1,"e":-1.22},{"b":19,"k":2,"e":-1.28},{"b":19,"k":3,"e":-1.35},{"b":19,"k":4,"e":-1.45},{"b":19,"k":5,"e":-1.6},{"b":19,"k":6,"e":-1.75},{"b":19,"k":7,"e":-1.85},{"b":19,"k":8,"e":-1.9},
{"b":20,"k":0,"e":-1.05},{"b":20,"k":1,"e":-1.08},{"b":20,"k":2,"e":-1.12},{"b":20,"k":3,"e":-1.2},{"b":20,"k":4,"e":-1.32},{"b":20,"k":5,"e":-1.5},{"b":20,"k":6,"e":-1.72},{"b":20,"k":7,"e":-1.9},{"b":20,"k":8,"e":-2},
{"b":21,"k":0,"e":-1.6},{"b":21,"k":1,"e":-1.62},{"b":21,"k":2,"e":-1.7},{"b":21,"k":3,"e":-1.82},{"b":21,"k":4,"e":-1.95},{"b":21,"k":5,"e":-2.02},{"b":21,"k":6,"e":-2},{"b":21,"k":7,"e":-1.95},{"b":21,"k":8,"e":-1.92},
{"b":22,"k":0,"e":-2.8},{"b":22,"k":1,"e":-2.82},{"b":22,"k":2,"e":-2.88},{"b":22,"k":3,"e":-2.95},{"b":22,"k":4,"e":-3.05},{"b":22,"k":5,"e":-3.1},{"b":22,"k":6,"e":-3.1},{"b":22,"k":7,"e":-3.1},{"b":22,"k":8,"e":-3.1},
{"b":23,"k":0,"e":1.25},{"b":23,"k":1,"e":1.4},{"b":23,"k":2,"e":1.95},{"b":23,"k":3,"e":1.98},{"b":23,"k":4,"e":1.6},{"b":23,"k":5,"e":1.3},{"b":23,"k":6,"e":1.3},{"b":23,"k":7,"e":1.48},{"b":23,"k":8,"e":1.65},
{"b":24,"k":0,"e":1.32},{"b":24,"k":1,"e":1.48},{"b":24,"k":2,"e":1.98},{"b":24,"k":3,"e":2.02},{"b":24,"k":4,"e":1.72},{"b":24,"k":5,"e":1.45},{"b":24,"k":6,"e":1.45},{"b":24,"k":7,"e":1.58},{"b":24,"k":8,"e":1.68},
{"b":25,"k":0,"e":1.42},{"b":25,"k":1,"e":1.56},{"b":25,"k":2,"e":2.02},{"b":25,"k":3,"e":2.06},{"b":25,"k":4,"e":1.82},{"b":25,"k":5,"e":1.6},{"b":25,"k":6,"e":1.6},{"b":25,"k":7,"e":1.72},{"b":25,"k":8,"e":1.85},
{"b":26,"k":0,"e":1.5},{"b":26,"k":1,"e":1.64},{"b":26,"k":2,"e":2.06},{"b":26,"k":3,"e":2.1},{"b":26,"k":4,"e":1.9},{"b":26,"k":5,"e":1.72},{"b":26,"k":6,"e":1.72},{"b":26,"k":7,"e":1.82},{"b":26,"k":8,"e":1.9},
{"b":27,"k":0,"e":1.6},{"b":27,"k":1,"e":1.72},{"b":27,"k":2,"e":2.1},{"b":27,"k":3,"e":2.15},{"b":27,"k":4,"e":1.98},{"b":27,"k":5,"e":1.84},{"b":27,"k":6,"e":1.84},{"b":27,"k":7,"e":1.93},{"b":27,"k":8,"e":2.02},
{"b":28,"k":0,"e":1.72},{"b":28,"k":1,"e":1.82},{"b":28,"k":2,"e":2.15},{"b":28,"k":3,"e":2.2},{"b":28,"k":4,"e":2.08},{"b":28,"k":5,"e":1.96},{"b":28,"k":6,"e":1.96},{"b":28,"k":7,"e":2.05},{"b":28,"k":8,"e":2.12},
{"b":29,"k":0,"e":1.85},{"b":29,"k":1,"e":1.95},{"b":29,"k":2,"e":2.2},{"b":29,"k":3,"e":2.24},{"b":29,"k":4,"e":2.15},{"b":29,"k":5,"e":2.08},{"b":29,"k":6,"e":2.08},{"b":29,"k":7,"e":2.15},{"b":29,"k":8,"e":2.2},
{"b":30,"k":0,"e":1.95},{"b":30,"k":1,"e":2.03},{"b":30,"k":2,"e":2.24},{"b":30,"k":3,"e":2.27},{"b":30,"k":4,"e":2.22},{"b":30,"k":5,"e":2.17},{"b":30,"k":6,"e":2.18},{"b":30,"k":7,"e":2.24},{"b":30,"k":8,"e":2.22},
{"b":31,"k":0,"e":2.08},{"b":31,"k":1,"e":2.12},{"b":31,"k":2,"e":2.27},{"b":31,"k":3,"e":2.3},{"b":31,"k":4,"e":2.28},{"b":31,"k":5,"e":2.26},{"b":31,"k":6,"e":2.27},{"b":31,"k":7,"e":2.3},{"b":31,"k":8,"e":2.3},
{"b":32,"k":0,"e":2.2},{"b":32,"k":1,"e":2.22},{"b":32,"k":2,"e":2.3},{"b":32,"k":3,"e":2.32},{"b":32,"k":4,"e":2.34},{"b":32,"k":5,"e":2.36},{"b":32,"k":6,"e":2.35},{"b":32,"k":7,"e":2.35},{"b":32,"k":8,"e":2.35},
{"b":33,"k":0,"e":2.35},{"b":33,"k":1,"e":2.4},{"b":33,"k":2,"e":2.6},{"b":33,"k":3,"e":2.75},{"b":33,"k":4,"e":2.55},{"b":33,"k":5,"e":2.45},{"b":33,"k":6,"e":2.45},{"b":33,"k":7,"e":2.5},{"b":33,"k":8,"e":2.55},
{"b":34,"k":0,"e":2.65},{"b":34,"k":1,"e":2.65},{"b":34,"k":2,"e":2.72},{"b":34,"k":3,"e":2.9},{"b":34,"k":4,"e":2.85},{"b":34,"k":5,"e":2.7},{"b":34,"k":6,"e":2.6},{"b":34,"k":7,"e":2.62},{"b":34,"k":8,"e":2.65},
{"b":35,"k":0,"e":2.75},{"b":35,"k":1,"e":2.76},{"b":35,"k":2,"e":2.8},{"b":35,"k":3,"e":2.95},{"b":35,"k":4,"e":3},{"b":35,"k":5,"e":2.85},{"b":35,"k":6,"e":2.72},{"b":35,"k":7,"e":2.72},{"b":35,"k":8,"e":2.75},
{"b":36,"k":0,"e":2.85},{"b":36,"k":1,"e":2.86},{"b":36,"k":2,"e":2.9},{"b":36,"k":3,"e":3},{"b":36,"k":4,"e":3.05},{"b":36,"k":5,"e":2.95},{"b":36,"k":6,"e":2.9},{"b":36,"k":7,"e":2.95},{"b":36,"k":8,"e":2.9},
{"b":37,"k":0,"e":2.95},{"b":37,"k":1,"e":2.95},{"b":37,"k":2,"e":2.98},{"b":37,"k":3,"e":3.05},{"b":37,"k":4,"e":3.1},{"b":37,"k":5,"e":3.05},{"b":37,"k":6,"e":3},{"b":37,"k":7,"e":2.95},{"b":37,"k":8,"e":2.95}
],
"b1": [
{"b":1,"k":0,"e":-0.52},{"b":1,"k":1,"e":-0.53},{"b":1,"k":2,"e":-0.55},{"b":1,"k":3,"e":-0.6},{"b":1,"k":4,"e":-0.68},{"b":1,"k":5,"e":-0.8},{"b":1,"k":6,"e":-1},{"b":1,"k":7,"e":-1.25},{"b":1,"k":8,"e":-1.5},
{"b":2,"k":0,"e":-0.55},{"b":2,"k":1,"e":-0.56},{"b":2,"k":2,"e":-0.58},{"b":2,"k":3,"e":-0.63},{"b":2,"k":4,"e":-0.72},{"b":2,"k":5,"e":-0.86},{"b":2,"k":6,"e":-1.08},{"b":2,"k":7,"e":-1.35},{"b":2,"k":8,"e":-1.58},
{"b":3,"k":0,"e":-0.58},{"b":3,"k":1,"e":-0.59},{"b":3,"k":2,"e":-0.62},{"b":3,"k":3,"e":-0.67},{"b":3,"k":4,"e":-0.77},{"b":3,"k":5,"e":-0.92},{"b":3,"k":6,"e":-1.15},{"b":3,"k":7,"e":-1.45},{"b":3,"k":8,"e":-1.65},
{"b":4,"k":0,"e":-0.6},{"b":4,"k":1,"e":-0.62},{"b":4,"k":2,"e":-0.65},{"b":4,"k":3,"e":-0.72},{"b":4,"k":4,"e":-0.82},{"b":4,"k":5,"e":-1},{"b":4,"k":6,"e":-1.25},{"b":4,"k":7,"e":-1.55},{"b":4,"k":8,"e":-1.72},
{"b":5,"k":0,"e":-0.65},{"b":5,"k":1,"e":-0.67},{"b":5,"k":2,"e":-0.72},{"b":5,"k":3,"e":-0.8},{"b":5,"k":4,"e":-0.92},{"b":5,"k":5,"e":-1.1},{"b":5,"k":6,"e":-1.35},{"b":5,"k":7,"e":-1.62},{"b":5,"k":8,"e":-1.78},
{"b":6,"k":0,"e":-0.72},{"b":6,"k":1,"e":-0.75},{"b":6,"k":2,"e":-0.8},{"b":6,"k":3,"e":-0.9},{"b":6,"k":4,"e":-1.02},{"b":6,"k":5,"e":-1.2},{"b":6,"k":6,"e":-1.45},{"b":6,"k":7,"e":-1.72},{"b":6,"k":8,"e":-1.85},
{"b":7,"k":0,"e":-0.8},{"b":7,"k":1,"e":-0.83},{"b":7,"k":2,"e":-0.9},{"b":7,"k":3,"e":-1},{"b":7,"k":4,"e":-1.15},{"b":7,"k":5,"e":-1.35},{"b":7,"k":6,"e":-1.58},{"b":7,"k":7,"e":-1.8},{"b":7,"k":8,"e":-1.9},
{"b":8,"k":0,"e":-0.95},{"b":8,"k":1,"e":-0.98},{"b":8,"k":2,"e":-1.05},{"b":8,"k":3,"e":-1.18},{"b":8,"k":4,"e":-1.32},{"b":8,"k":5,"e":-1.5},{"b":8,"k":6,"e":-1.7},{"b":8,"k":7,"e":-1.88},{"b":8,"k":8,"e":-1.95},
{"b":9,"k":0,"e":-1.05},{"b":9,"k":1,"e":-1.1},{"b":9,"k":2,"e":-1.25},{"b":9,"k":3,"e":-1.45},{"b":9,"k":4,"e":-1.7},{"b":9,"k":5,"e":-1.92},{"b":9,"k":6,"e":-2.12},{"b":9,"k":7,"e":-2.22},{"b":9,"k":8,"e":-2.25},
{"b":10,"k":0,"e":-1.2},{"b":10,"k":1,"e":-1.25},{"b":10,"k":2,"e":-1.4},{"b":10,"k":3,"e":-1.65},{"b":10,"k":4,"e":-1.95},{"b":10,"k":5,"e":-2.25},{"b":10,"k":6,"e":-2.5},{"b":10,"k":7,"e":-2.65},{"b":10,"k":8,"e":-2.7},
{"b":11,"k":0,"e":-1.4},{"b":11,"k":1,"e":-1.45},{"b":11,"k":2,"e":-1.6},{"b":11,"k":3,"e":-1.85},{"b":11,"k":4,"e":-2.15},{"b":11,"k":5,"e":-2.45},{"b":11,"k":6,"e":-2.7},{"b":11,"k":7,"e":-2.85},{"b":11,"k":8,"e":-2.9},
{"b":12,"k":0,"e":-1.55},{"b":12,"k":1,"e":-1.58},{"b":12,"k":2,"e":-1.65},{"b":12,"k":3,"e":-1.75},{"b":12,"k":4,"e":-1.9},{"b":12,"k":5,"e":-2.05},{"b":12,"k":6,"e":-2.2},{"b":12,"k":7,"e":-2.3},{"b":12,"k":8,"e":-2.32},
{"b":13,"k":0,"e":-1.75},{"b":13,"k":1,"e":-1.78},{"b":13,"k":2,"e":-1.85},{"b":13,"k":3,"e":-1.95},{"b":13,"k":4,"e":-2.1},{"b":13,"k":5,"e":-2.25},{"b":13,"k":6,"e":-2.35},{"b":13,"k":7,"e":-2.42},{"b":13,"k":8,"e":-2.45},
{"b":14,"k":0,"e":-1.9},{"b":14,"k":1,"e":-1.92},{"b":14,"k":2,"e":-1.95},{"b":14,"k":3,"e":-2},{"b":14,"k":4,"e":-2.05},{"b":14,"k":5,"e":-2.1},{"b":14,"k":6,"e":-2.15},{"b":14,"k":7,"e":-2.2},{"b":14,"k":8,"e":-2.2},
{"b":15,"k":0,"e":-2.1},{"b":15,"k":1,"e":-2.15},{"b":15,"k":2,"e":-2.3},{"b":15,"k":3,"e":-2.55},{"b":15,"k":4,"e":-2.8},{"b":15,"k":5,"e":-2.95},{"b":15,"k":6,"e":-3},{"b":15,"k":7,"e":-2.95},{"b":15,"k":8,"e":-2.9},
{"b":16,"k":0,"e":-2.3},{"b":16,"k":1,"e":-2.35},{"b":16,"k":2,"e":-2.5},{"b":16,"k":3,"e":-2.7},{"b":16,"k":4,"e":-2.9},{"b":16,"k":5,"e":-3.05},{"b":16,"k":6,"e":-3.1},{"b":16,"k":7,"e":-3.1},{"b":16,"k":8,"e":-3.1},
{"b":17,"k":0,"e":-2.55},{"b":17,"k":1,"e":-2.58},{"b":17,"k":2,"e":-2.65},{"b":17,"k":3,"e":-2.75},{"b":17,"k":4,"e":-2.8},{"b":17,"k":5,"e":-2.75},{"b":17,"k":6,"e":-2.7},{"b":17,"k":7,"e":-2.72},{"b":17,"k":8,"e":-2.75},
{"b":18,"k":0,"e":-2.75},{"b":18,"k":1,"e":-2.78},{"b":18,"k":2,"e":-2.85},{"b":18,"k":3,"e":-2.95},{"b":18,"k":4,"e":-3},{"b":18,"k":5,"e":-2.95},{"b":18,"k":6,"e":-2.9},{"b":18,"k":7,"e":-2.92},{"b":18,"k":8,"e":-2.95},
{"b":19,"k":0,"e":-1},{"b":19,"k":1,"e":-1.02},{"b":19,"k":2,"e":-1.08},{"b":19,"k":3,"e":-1.2},{"b":19,"k":4,"e":-1.38},{"b":19,"k":5,"e":-1.6},{"b":19,"k":6,"e":-1.85},{"b":19,"k":7,"e":-2.05},{"b":19,"k":8,"e":-2.1},
{"b":20,"k":0,"e":-2.9},{"b":20,"k":1,"e":-2.9},{"b":20,"k":2,"e":-2.88},{"b":20,"k":3,"e":-2.85},{"b":20,"k":4,"e":-2.85},{"b":20,"k":5,"e":-2.9},{"b":20,"k":6,"e":-2.98},{"b":20,"k":7,"e":-3.05},{"b":20,"k":8,"e":-3.1},
{"b":21,"k":0,"e":0.87},{"b":21,"k":1,"e":1.05},{"b":21,"k":2,"e":1.55},{"b":21,"k":3,"e":2},{"b":21,"k":4,"e":1.75},{"b":21,"k":5,"e":1.56},{"b":21,"k":6,"e":1.58},{"b":21,"k":7,"e":1.7},{"b":21,"k":8,"e":1.78},
{"b":22,"k":0,"e":0.9},{"b":22,"k":1,"e":1.08},{"b":22,"k":2,"e":1.6},{"b":22,"k":3,"e":2.05},{"b":22,"k":4,"e":1.85},{"b":22,"k":5,"e":1.68},{"b":22,"k":6,"e":1.68},{"b":22,"k":7,"e":1.78},{"b":22,"k":8,"e":1.85},
{"b":23,"k":0,"e":0.94},{"b":23,"k":1,"e":1.12},{"b":23,"k":2,"e":1.64},{"b":23,"k":3,"e":2.1},{"b":23,"k":4,"e":1.95},{"b":23,"k":5,"e":1.8},{"b":23,"k":6,"e":1.8},{"b":23,"k":7,"e":1.88},{"b":23,"k":8,"e":1.95},
{"b":24,"k":0,"e":0.98},{"b":24,"k":1,"e":1.16},{"b":24,"k":2,"e":1.68},{"b":24,"k":3,"e":2.15},{"b":24,"k":4,"e":2.05},{"b":24,"k":5,"e":1.92},{"b":24,"k":6,"e":1.9},{"b":24,"k":7,"e":1.98},{"b":24,"k":8,"e":2.05},
{"b":25,"k":0,"e":1.05},{"b":25,"k":1,"e":1.22},{"b":25,"k":2,"e":1.73},{"b":25,"k":3,"e":2.2},{"b":25,"k":4,"e":2.12},{"b":25,"k":5,"e":2.02},{"b":25,"k":6,"e":2},{"b":25,"k":7,"e":2.06},{"b":25,"k":8,"e":2.12},
{"b":26,"k":0,"e":1.13},{"b":26,"k":1,"e":1.3},{"b":26,"k":2,"e":1.78},{"b":26,"k":3,"e":2.24},{"b":26,"k":4,"e":2.2},{"b":26,"k":5,"e":2.12},{"b":26,"k":6,"e":2.1},{"b":26,"k":7,"e":2.15},{"b":26,"k":8,"e":2.2},
{"b":27,"k":0,"e":1.25},{"b":27,"k":1,"e":1.4},{"b":27,"k":2,"e":1.85},{"b":27,"k":3,"e":2.28},{"b":27,"k":4,"e":2.28},{"b":27,"k":5,"e":2.22},{"b":27,"k":6,"e":2.2},{"b":27,"k":7,"e":2.24},{"b":27,"k":8,"e":2.28},
{"b":28,"k":0,"e":1.4},{"b":28,"k":1,"e":1.52},{"b":28,"k":2,"e":1.93},{"b":28,"k":3,"e":2.32},{"b":28,"k":4,"e":2.36},{"b":28,"k":5,"e":2.32},{"b":28,"k":6,"e":2.3},{"b":28,"k":7,"e":2.33},{"b":28,"k":8,"e":2.36},
{"b":29,"k":0,"e":1.65},{"b":29,"k":1,"e":1.75},{"b":29,"k":2,"e":2.05},{"b":29,"k":3,"e":2.38},{"b":29,"k":4,"e":2.45},{"b":29,"k":5,"e":2.45},{"b":29,"k":6,"e":2.42},{"b":29,"k":7,"e":2.45},{"b":29,"k":8,"e":2.48},
{"b":30,"k":0,"e":2.35},{"b":30,"k":1,"e":2.3},{"b":30,"k":2,"e":2.25},{"b":30,"k":3,"e":2.35},{"b":30,"k":4,"e":2.55},{"b":30,"k":5,"e":2.6},{"b":30,"k":6,"e":2.58},{"b":30,"k":7,"e":2.6},{"b":30,"k":8,"e":2.62},
{"b":31,"k":0,"e":2.6},{"b":31,"k":1,"e":2.55},{"b":31,"k":2,"e":2.45},{"b":31,"k":3,"e":2.5},{"b":31,"k":4,"e":2.68},{"b":31,"k":5,"e":2.72},{"b":31,"k":6,"e":2.7},{"b":31,"k":7,"e":2.72},{"b":31,"k":8,"e":2.75},
{"b":32,"k":0,"e":2.8},{"b":32,"k":1,"e":2.75},{"b":32,"k":2,"e":2.65},{"b":32,"k":3,"e":2.7},{"b":32,"k":4,"e":2.85},{"b":32,"k":5,"e":2.88},{"b":32,"k":6,"e":2.9},{"b":32,"k":7,"e":2.88},{"b":32,"k":8,"e":2.85},
{"b":33,"k":0,"e":2.95},{"b":33,"k":1,"e":2.92},{"b":33,"k":2,"e":2.85},{"b":33,"k":3,"e":2.92},{"b":33,"k":4,"e":3.02},{"b":33,"k":5,"e":3},{"b":33,"k":6,"e":2.95},{"b":33,"k":7,"e":2.95},{"b":33,"k":8,"e":2.95},
{"b":34,"k":0,"e":2.7},{"b":34,"k":1,"e":2.68},{"b":34,"k":2,"e":2.58},{"b":34,"k":3,"e":2.45},{"b":34,"k":4,"e":2.6},{"b":34,"k":5,"e":2.78},{"b":34,"k":6,"e":2.85},{"b":34,"k":7,"e":2.8},{"b":34,"k":8,"e":2.72}
],
"c": [
{"s":"Zigzag","w":16.0,"g":1.855},{"s":"Zigzag","w":22.3,"g":1.767},{"s":"Zigzag","w":28.5,"g":1.716},{"s":"Zigzag","w":34.7,"g":1.678},{"s":"Zigzag","w":40.9,"g":1.656},
{"s":"Armchair","w":18.4,"g":1.993},{"s":"Armchair","w":22.0,"g":1.876},{"s":"Armchair","w":25.6,"g":1.807},{"s":"Armchair","w":29.2,"g":1.766},{"s":"Armchair","w":32.7,"g":1.736},{"s":"Armchair","w":36.4,"g":1.698}
],
"d": [
{"s":"Armchair","t":0,"g":1.654},{"s":"Armchair","t":2.5,"g":1.658},{"s":"Armchair","t":5,"g":1.453},{"s":"Armchair","t":7.5,"g":1.293},{"s":"Armchair","t":10,"g":1.105},
{"s":"Zigzag","t":0,"g":1.7},{"s":"Zigzag","t":2.5,"g":1.782},{"s":"Zigzag","t":5,"g":1.704},{"s":"Zigzag","t":7.5,"g":1.421},{"s":"Zigzag","t":10,"g":1.071}
]
},
"vconcat": [
{"bounds": "full", "spacing": 8, "hconcat": [
 {"bounds": "flush", "spacing": 7, "hconcat": [
  {"width": 202, "height": 422, "layer": [
   {"data": {"name": "a0"}, "mark": {"type": "line", "interpolate": "catmull-rom", "color": "black", "strokeWidth": 1.6, "clip": true},
    "encoding": {
     "x": {"field": "k", "type": "quantitative", "scale": {"domain": [0, 8], "nice": false, "zero": false}, "axis": {"title": null, "values": [0, 8], "labelExpr": "datum.value == 0 ? 'Γ' : 'Y'", "labelFlush": true, "ticks": false, "labelFontSize": 19, "labelPadding": 8, "labelFont": {"condition": {"test": "datum.value == 0", "value": "Liberation Serif"}, "value": "Liberation Sans"}}},
     "y": {"field": "e", "type": "quantitative", "scale": {"domain": [-3, 3], "nice": false, "zero": false}, "axis": {"title": "Energy (eV)", "titleFontSize": 24, "titlePadding": 4, "values": [-3,-2.5,-2,-1.5,-1,-0.5,0,0.5,1,1.5,2,2.5,3], "labelExpr": "datum.value % 1 == 0 ? '' + datum.value : ''", "tickSize": -6, "labelPadding": 19, "labelFontSize": 20}},
     "detail": {"field": "b", "type": "nominal"}}},
   {"data": {"values": [{}]}, "mark": {"type": "rule", "color": "#3f3f8f", "strokeDash": [4, 3], "strokeWidth": 1}, "encoding": {"y": {"datum": 0}}},
   {"data": {"values": [{}]}, "mark": {"type": "rule", "color": "#e88a8a", "strokeDash": [5, 3], "strokeWidth": 1.3}, "encoding": {"x": {"datum": 0}, "y": {"datum": -0.48}, "x2": {"datum": 4.61}, "y2": {"datum": 1.12}}},
   {"data": {"values": [{}]}, "mark": {"type": "point", "shape": "triangle-up", "filled": true, "color": "#e8161b", "opacity": 1, "size": 90, "angle": 46}, "encoding": {"x": {"datum": 4.61}, "y": {"datum": 1.12}}},
   {"data": {"values": [{}]}, "mark": {"type": "text", "text": "armchair", "fontSize": 18}, "encoding": {"x": {"datum": 4.95}, "y": {"datum": 0.51}}},
   {"data": {"values": [{}]}, "mark": {"type": "text", "text": "0%", "fontSize": 18}, "encoding": {"x": {"datum": 4.9}, "y": {"datum": -0.3}}},
   {"data": {"values": [{}]}, "mark": {"type": "text", "text": "(a)", "fontSize": 29}, "encoding": {"x": {"datum": -1.55}, "y": {"datum": 2.79}}}
  ]},
  {"width": 202, "height": 422, "layer": [
   {"data": {"name": "a1"}, "mark": {"type": "line", "interpolate": "catmull-rom", "color": "black", "strokeWidth": 1.6, "clip": true},
    "encoding": {
     "x": {"field": "k", "type": "quantitative", "scale": {"domain": [0, 8], "nice": false, "zero": false}, "axis": {"title": null, "values": [0, 8], "labelExpr": "datum.value == 0 ? 'Γ' : 'Y'", "labelFlush": true, "ticks": false, "labelFontSize": 19, "labelPadding": 8, "labelFont": {"condition": {"test": "datum.value == 0", "value": "Liberation Serif"}, "value": "Liberation Sans"}}},
     "y": {"field": "e", "type": "quantitative", "scale": {"domain": [-3, 3], "nice": false, "zero": false}, "axis": {"title": null, "labels": false, "values": [-3,-2.5,-2,-1.5,-1,-0.5,0,0.5,1,1.5,2,2.5,3], "tickSize": -6}},
     "detail": {"field": "b", "type": "nominal"}}},
   {"data": {"values": [{}]}, "mark": {"type": "rule", "color": "#3f3f8f", "strokeDash": [4, 3], "strokeWidth": 1}, "encoding": {"y": {"datum": 0}}},
   {"data": {"values": [{}]}, "mark": {"type": "rule", "color": "#e88a8a", "strokeDash": [5, 3], "strokeWidth": 1.3}, "encoding": {"x": {"datum": 0.38}, "y": {"datum": -0.44}, "x2": {"datum": 0.38}, "y2": {"datum": 0.9}}},
   {"data": {"values": [{}]}, "mark": {"type": "point", "shape": "triangle-up", "filled": true, "color": "#e8161b", "opacity": 1, "size": 90}, "encoding": {"x": {"datum": 0.38}, "y": {"datum": 0.9}}},
   {"data": {"values": [{}]}, "mark": {"type": "text", "text": "7.5%", "fontSize": 18}, "encoding": {"x": {"datum": 4.55}, "y": {"datum": -0.3}}}
  ]}
 ]},
 {"bounds": "flush", "spacing": 7, "hconcat": [
  {"width": 195, "height": 422, "layer": [
   {"data": {"name": "b0"}, "mark": {"type": "line", "interpolate": "catmull-rom", "color": "black", "strokeWidth": 1.6, "clip": true},
    "encoding": {
     "x": {"field": "k", "type": "quantitative", "scale": {"domain": [0, 8], "nice": false, "zero": false}, "axis": {"title": null, "values": [0, 8], "labelExpr": "datum.value == 0 ? 'Γ' : 'X'", "labelFlush": true, "ticks": false, "labelFontSize": 19, "labelPadding": 8, "labelFont": {"condition": {"test": "datum.value == 0", "value": "Liberation Serif"}, "value": "Liberation Sans"}}},
     "y": {"field": "e", "type": "quantitative", "scale": {"domain": [-3, 3], "nice": false, "zero": false}, "axis": {"title": "Energy (eV)", "titleFontSize": 24, "titlePadding": 4, "values": [-3,-2.5,-2,-1.5,-1,-0.5,0,0.5,1,1.5,2,2.5,3], "labelExpr": "datum.value % 1 == 0 ? '' + datum.value : ''", "tickSize": -6, "labelPadding": 19, "labelFontSize": 20}},
     "detail": {"field": "b", "type": "nominal"}}},
   {"data": {"values": [{}]}, "mark": {"type": "rule", "color": "#3f3f8f", "strokeDash": [4, 3], "strokeWidth": 1}, "encoding": {"y": {"datum": 0}}},
   {"data": {"values": [{}]}, "mark": {"type": "rule", "color": "#e88a8a", "strokeDash": [5, 3], "strokeWidth": 1.3}, "encoding": {"x": {"datum": 0.53}, "y": {"datum": -0.36}, "x2": {"datum": 0.53}, "y2": {"datum": 1.13}}},
   {"data": {"values": [{}]}, "mark": {"type": "point", "shape": "triangle-up", "filled": true, "color": "#e8161b", "opacity": 1, "size": 90}, "encoding": {"x": {"datum": 0.53}, "y": {"datum": 1.13}}},
   {"data": {"values": [{}]}, "mark": {"type": "text", "text": "zigzag", "fontSize": 18}, "encoding": {"x": {"datum": 3.69}, "y": {"datum": 0.6}}},
   {"data": {"values": [{}]}, "mark": {"type": "text", "text": "0%", "fontSize": 18}, "encoding": {"x": {"datum": 3.77}, "y": {"datum": -0.26}}},
   {"data": {"values": [{}]}, "mark": {"type": "text", "text": "(b)", "fontSize": 29}, "encoding": {"x": {"datum": -1.6}, "y": {"datum": 2.79}}}
  ]},
  {"width": 196, "height": 422, "layer": [
   {"data": {"name": "b1"}, "mark": {"type": "line", "interpolate": "catmull-rom", "color": "black", "strokeWidth": 1.6, "clip": true},
    "encoding": {
     "x": {"field": "k", "type": "quantitative", "scale": {"domain": [0, 8], "nice": false, "zero": false}, "axis": {"title": null, "values": [0, 8], "labelExpr": "datum.value == 0 ? 'Γ' : 'X'", "labelFlush": true, "ticks": false, "labelFontSize": 19, "labelPadding": 8, "labelFont": {"condition": {"test": "datum.value == 0", "value": "Liberation Serif"}, "value": "Liberation Sans"}}},
     "y": {"field": "e", "type": "quantitative", "scale": {"domain": [-3, 3], "nice": false, "zero": false}, "axis": {"title": null, "labels": false, "values": [-3,-2.5,-2,-1.5,-1,-0.5,0,0.5,1,1.5,2,2.5,3], "tickSize": -6}},
     "detail": {"field": "b", "type": "nominal"}}},
   {"data": {"values": [{}]}, "mark": {"type": "rule", "color": "#3f3f8f", "strokeDash": [4, 3], "strokeWidth": 1}, "encoding": {"y": {"datum": 0}}},
   {"data": {"values": [{}]}, "mark": {"type": "rule", "color": "#e88a8a", "strokeDash": [5, 3], "strokeWidth": 1.3}, "encoding": {"x": {"datum": 0.33}, "y": {"datum": -0.46}, "x2": {"datum": 0.33}, "y2": {"datum": 0.8}}},
   {"data": {"values": [{}]}, "mark": {"type": "point", "shape": "triangle-up", "filled": true, "color": "#e8161b", "opacity": 1, "size": 90}, "encoding": {"x": {"datum": 0.33}, "y": {"datum": 0.8}}},
   {"data": {"values": [{}]}, "mark": {"type": "text", "text": "7.5%", "fontSize": 18}, "encoding": {"x": {"datum": 4.82}, "y": {"datum": -0.26}}}
  ]}
 ]}
]},
{"bounds": "full", "spacing": 23, "center": true,
 "resolve": {"scale": {"color": "independent", "shape": "independent"}, "legend": {"color": "independent", "shape": "independent"}},
 "hconcat": [
 {"bounds": "flush", "spacing": 43,
  "resolve": {"scale": {"color": "independent", "shape": "independent"}, "legend": {"color": "independent", "shape": "independent"}},
  "hconcat": [
  {"width": 1, "height": 1, "view": {"stroke": null}, "data": {"values": [{}]}, "mark": {"type": "point", "opacity": 0}, "encoding": {}},
  {"width": 363, "height": 192, "layer": [
   {"data": {"name": "c"}, "mark": {"type": "line", "interpolate": "monotone", "strokeWidth": 1.5},
    "encoding": {
     "x": {"field": "w", "type": "quantitative", "scale": {"domain": [15, 42.5], "nice": false, "zero": false}, "axis": {"title": "Width (Angstrom)", "values": [15,17.5,20,22.5,25,27.5,30,32.5,35,37.5,40], "labelExpr": "datum.value % 5 == 0 ? '' + datum.value : ''", "tickSize": {"condition": {"test": "datum.value % 5 == 0", "value": -8}, "value": -4}, "labelPadding": 13, "labelFontSize": 19, "titleFontSize": 20, "titlePadding": 2}},
     "y": {"field": "g", "type": "quantitative", "scale": {"domain": [1.622, 2.025], "nice": false, "zero": false}, "axis": {"title": "Band Gap (eV)", "values": [1.65,1.7,1.75,1.8,1.85,1.9,1.95,2.0], "labelExpr": "abs(datum.value*10 - round(datum.value*10)) < 0.01 ? format(datum.value, '.1f') : ''", "tickSize": {"condition": {"test": "abs(datum.value*10 - round(datum.value*10)) < 0.01", "value": -8}, "value": -4}, "labelPadding": 25, "labelFontSize": 18, "titleFontSize": 20, "titlePadding": 8}},
     "color": {"field": "s", "type": "nominal", "scale": {"domain": ["Zigzag", "Armchair"], "range": ["black", "#e8161b"]},
       "legend": {"title": null, "orient": "none", "legendX": 188, "legendY": 31, "padding": 0, "rowPadding": 7, "symbolSize": 121, "labelFontSize": 20, "labelOffset": 14,
         "encode": {"symbols": {"update": {
           "shape": {"signal": "datum.value === 'Zigzag' ? 'M-4.4,0H4.4M-1,-1H1V1H-1Z' : 'M-4.4,0H4.4M1.1,0A1.1,1.1,0,1,1,-1.1,0A1.1,1.1,0,1,1,1.1,0Z'"},
           "fill": {"signal": "datum.value === 'Zigzag' ? 'black' : '#e8161b'"},
           "stroke": {"signal": "datum.value === 'Zigzag' ? 'black' : '#e8161b'"},
           "strokeWidth": {"value": 1.5}}}}}}}},
   {"data": {"name": "c"}, "mark": {"type": "point", "filled": true, "opacity": 1, "size": 120},
    "encoding": {"x": {"field": "w", "type": "quantitative"}, "y": {"field": "g", "type": "quantitative"}, "color": {"field": "s", "type": "nominal"},
     "shape": {"field": "s", "type": "nominal", "scale": {"domain": ["Zigzag", "Armchair"], "range": ["square", "circle"]}, "legend": null}}},
   {"data": {"values": [{}]}, "mark": {"type": "text", "text": "(c)", "fontSize": 29}, "encoding": {"x": {"datum": 9.05}, "y": {"datum": 1.979}}}
  ]}
 ]},
 {"width": 375, "height": 201, "layer": [
  {"data": {"name": "d"}, "mark": {"type": "line", "interpolate": "basis", "strokeWidth": 1.5},
   "encoding": {
    "x": {"field": "t", "type": "quantitative", "scale": {"domain": [-1, 10.77], "nice": false, "zero": false}, "axis": {"title": "Strain (%)", "values": [0,1,2,3,4,5,6,7,8,9,10], "labelExpr": "datum.value % 2 == 0 ? '' + datum.value : ''", "tickSize": {"condition": {"test": "datum.value % 2 == 0", "value": -8}, "value": -4}, "labelPadding": 12, "labelFontSize": 18, "titleFontSize": 20, "titlePadding": 4}},
    "y": {"field": "g", "type": "quantitative", "scale": {"domain": [1.0, 1.853], "nice": false, "zero": false}, "axis": {"title": "Band Gap (eV)", "values": [1.05,1.2,1.35,1.5,1.65,1.8], "labelExpr": "abs(datum.value*10 - round(datum.value*10)) < 0.01 ? format(datum.value, '.1f') : ''", "tickSize": {"condition": {"test": "abs(datum.value*10 - round(datum.value*10)) < 0.01", "value": -8}, "value": -4}, "labelPadding": 20, "labelFontSize": 16, "titleFontSize": 20, "titlePadding": 12}},
    "color": {"field": "s", "type": "nominal", "scale": {"domain": ["Armchair", "Zigzag"], "range": ["black", "#e8161b"]},
      "legend": {"title": null, "orient": "none", "legendX": 61, "legendY": 130, "padding": 0, "rowPadding": 7, "symbolSize": 144, "labelFontSize": 20, "labelOffset": 20,
        "encode": {"symbols": {"update": {
          "shape": {"signal": "datum.value === 'Armchair' ? 'M-3.8,0H3.8M-1,-1H1V1H-1Z' : 'M-3.8,0H3.8M1.08,0A1.08,1.08,0,1,1,-1.08,0A1.08,1.08,0,1,1,1.08,0Z'"},
          "fill": {"signal": "datum.value === 'Armchair' ? 'black' : '#e8161b'"},
          "stroke": {"signal": "datum.value === 'Armchair' ? 'black' : '#e8161b'"},
          "strokeWidth": {"value": 1.5}}}}}}}},
  {"data": {"name": "d"}, "mark": {"type": "point", "filled": true, "opacity": 1, "size": 150},
   "encoding": {"x": {"field": "t", "type": "quantitative"}, "y": {"field": "g", "type": "quantitative"}, "color": {"field": "s", "type": "nominal"},
    "shape": {"field": "s", "type": "nominal", "scale": {"domain": ["Armchair", "Zigzag"], "range": ["square", "circle"]}, "legend": null}}},
  {"data": {"values": [{}]}, "mark": {"type": "rule", "color": "#222222", "strokeDash": [6, 4], "strokeWidth": 1.3}, "encoding": {"x": {"datum": 6.78}}},
  {"data": {"values": [{}]}, "mark": {"type": "text", "text": "(d)", "fontSize": 29}, "encoding": {"x": {"datum": -2.79}, "y": {"datum": 1.772}}}
 ]}
]}
]
}
